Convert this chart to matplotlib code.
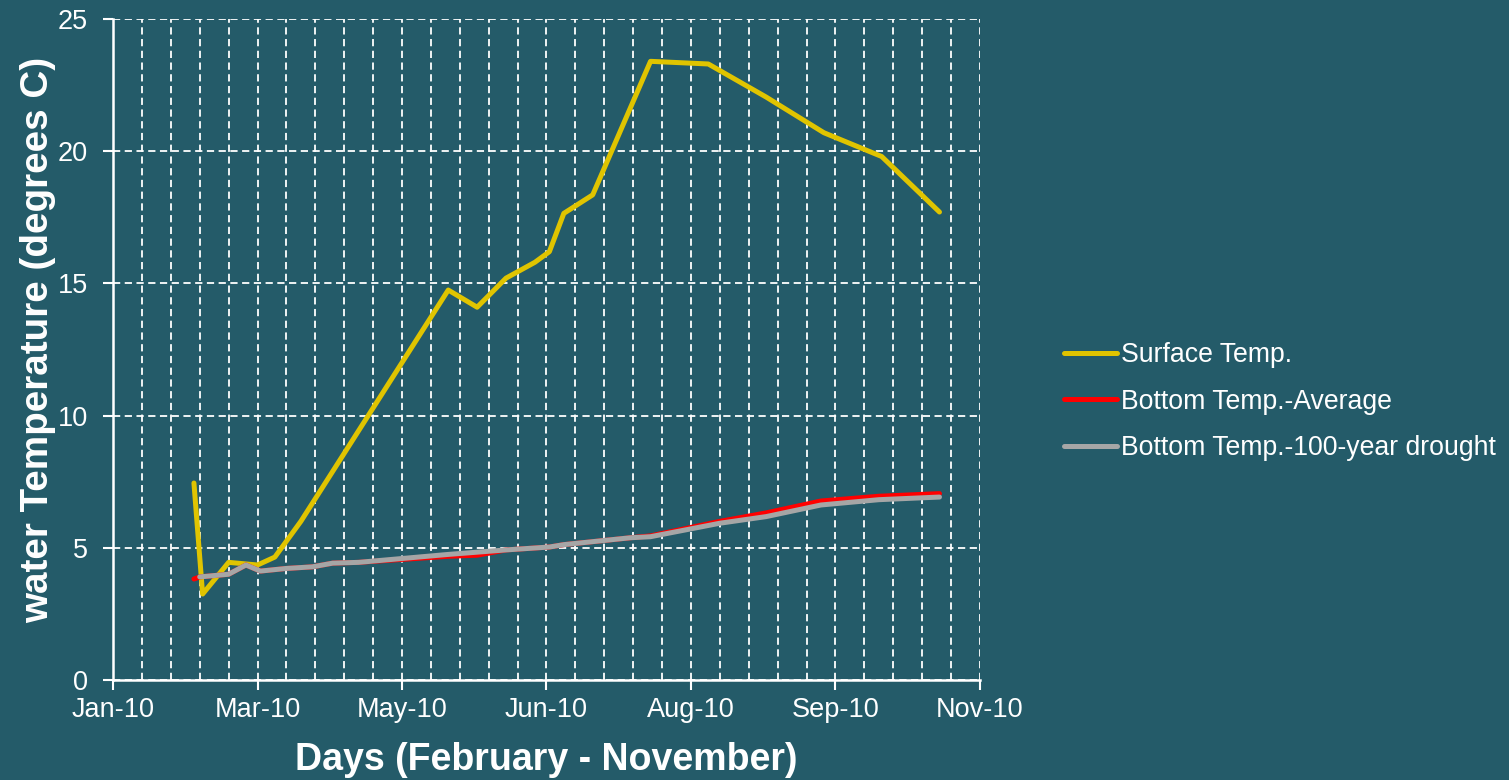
import matplotlib
matplotlib.use("Agg")
import matplotlib.pyplot as plt
import matplotlib.dates as mdates
import numpy as np

plt.rcParams['font.family'] = ['Liberation Sans', 'DejaVu Sans']

# --- data ---
surface_dates = ['2010-02-19', '2010-02-22', '2010-03-03', '2010-03-13', '2010-03-19',
                 '2010-03-28', '2010-05-18', '2010-05-28', '2010-06-07', '2010-06-17',
                 '2010-06-22', '2010-06-27', '2010-07-07', '2010-07-27', '2010-08-16',
                 '2010-09-05', '2010-09-25', '2010-10-15', '2010-11-04']
surface_temp = [7.45, 3.25, 4.45, 4.35, 4.65, 6.0, 14.75, 14.1, 15.2, 15.8,
                16.2, 17.65, 18.35, 23.4, 23.3, 22.05, 20.7, 19.8, 17.7]

avg_dates = ['2010-02-19', '2010-02-21', '2010-03-03', '2010-03-09', '2010-03-14',
             '2010-03-23', '2010-04-01', '2010-04-08', '2010-04-17', '2010-05-18',
             '2010-05-28', '2010-06-07', '2010-06-22', '2010-06-27', '2010-07-20',
             '2010-07-27', '2010-08-20', '2010-09-05', '2010-09-24', '2010-10-14',
             '2010-11-04']
avg_temp = [3.82, 3.9, 4.0, 4.35, 4.12, 4.22, 4.28, 4.42, 4.45, 4.68,
            4.72, 4.92, 5.03, 5.12, 5.38, 5.45, 6.0, 6.32, 6.77, 6.95, 7.05]

drought_dates = ['2010-02-21', '2010-03-03', '2010-03-09', '2010-03-14', '2010-03-23',
                 '2010-04-01', '2010-04-08', '2010-04-17', '2010-05-18', '2010-06-07',
                 '2010-06-22', '2010-06-27', '2010-07-20', '2010-07-27', '2010-08-20',
                 '2010-09-05', '2010-09-24', '2010-10-14', '2010-11-04']
drought_temp = [3.9, 4.0, 4.35, 4.12, 4.22, 4.28, 4.42, 4.45, 4.75, 4.92,
                5.03, 5.12, 5.38, 5.42, 5.93, 6.18, 6.62, 6.82, 6.92]

labels = ['Surface Temp.', 'Bottom Temp.-Average', 'Bottom Temp.-100-year drought']
colors = ['#E0C400', '#FF0000', '#A6A6A6']

bg = '#245B69'
axis_start = np.datetime64('2010-01-22')
major_step = 50   # days between labelled ticks
minor_step = 10   # days between grid lines

fig = plt.figure(figsize=(15.09, 7.8), dpi=100, facecolor=bg)
ax = fig.add_axes([0.0749, 0.1282, 0.5745, 0.8474])
ax.set_facecolor(bg)

ax.plot(np.array(surface_dates, dtype='datetime64[D]'), surface_temp,
        color=colors[0], lw=3.6, label=labels[0], solid_capstyle='round', zorder=3)
ax.plot(np.array(avg_dates, dtype='datetime64[D]'), avg_temp,
        color=colors[1], lw=3.6, label=labels[1], solid_capstyle='round', zorder=4)
ax.plot(np.array(drought_dates, dtype='datetime64[D]'), drought_temp,
        color=colors[2], lw=3.6, label=labels[2], solid_capstyle='round', zorder=5)

major = [axis_start + np.timedelta64(k * major_step, 'D') for k in range(7)]
minor = [axis_start + np.timedelta64(k * minor_step, 'D') for k in range(31)]
ax.set_xlim(major[0], major[-1])
ax.set_xticks(major)
ax.set_xticks(minor, minor=True)
ax.xaxis.set_major_formatter(mdates.DateFormatter('%b-%y'))
ax.set_ylim(0, 25)
ax.set_yticks(range(0, 26, 5))

grid_kw = dict(color='white', linestyle=(0, (4, 2.5)), linewidth=1.3)
ax.grid(True, which='both', axis='x', **grid_kw)
ax.grid(True, which='major', axis='y', **grid_kw)
ax.set_axisbelow(True)

for s in ['top', 'right']:
    ax.spines[s].set_visible(False)
for s in ['left', 'bottom']:
    ax.spines[s].set_color('white')
    ax.spines[s].set_linewidth(1.8)

ax.tick_params(which='major', colors='white', labelsize=19.5, length=7, width=1.5)
ax.tick_params(which='minor', length=0)
ax.tick_params(axis='x', pad=5)
ax.tick_params(axis='y', pad=11)

ax.set_xlabel('Days (February - November)', color='white', fontsize=27,
              fontweight='bold', labelpad=14)
ax.set_ylabel('water Temperature (degrees C)', color='white', fontsize=27.8,
              fontweight='bold', labelpad=1, y=0.514)

leg = fig.legend(loc='center left', bbox_to_anchor=(0.689, 0.485), frameon=False,
                 fontsize=19.2, handlelength=2.0, handletextpad=0.13, labelspacing=0.76)
for t in leg.get_texts():
    t.set_color('white')

fig.savefig('out.png', dpi=100, facecolor=bg)
